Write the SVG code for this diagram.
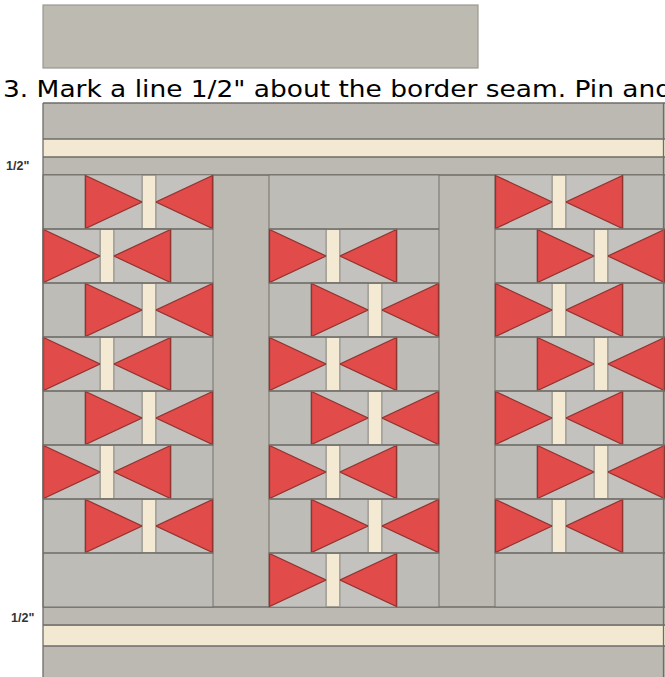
<svg xmlns="http://www.w3.org/2000/svg" xmlns:xlink="http://www.w3.org/1999/xlink" width="665" height="677" viewBox="0 0 665 677">
<style>
.gray{fill:#bcb9b2}
.blk{fill:#bdbcb7;stroke:#75736d;stroke-width:1}
.sq{fill:#c3c2be;stroke:#8a8884;stroke-width:0.8}
.tri{fill:#e14b4a;stroke:#93332f;stroke-width:1.3;stroke-linejoin:miter}
.bar{fill:#f4ead3;stroke:#8f8c84;stroke-width:0.6}
.beige{fill:#f3e9d2}
.ln{stroke:#6f6d67;stroke-width:1.3;fill:none}
.lbl{font-family:"Liberation Sans",Arial,sans-serif;font-size:12.5px;font-weight:bold;fill:#333}
.cap{font-family:"DejaVu Sans Condensed","DejaVu Sans",Verdana,sans-serif;font-stretch:condensed;font-size:23px;fill:#000}
</style>
<defs>
<g id="bowtie">
<rect class="sq" x="0" y="0" width="57" height="54"/>
<rect class="sq" x="71" y="0" width="57" height="54"/>
<polygon class="tri" points="0.5,0.5 57,27 0.5,53.5"/>
<polygon class="tri" points="127.5,0.5 71,27 127.5,53.5"/>
<rect class="bar" x="57.5" y="0.5" width="13" height="53"/>
</g>
</defs>
<rect width="665" height="677" fill="#ffffff"/>
<g id="prev-border">
<rect x="43" y="5" width="435" height="63" fill="#bdbab2" stroke="#9b9890" stroke-width="1.2"/>
</g>
<text id="caption" class="cap" x="3" y="97" textLength="669" lengthAdjust="spacingAndGlyphs">3. Mark a line 1/2" about the border seam. Pin and</text>
<g id="quilt">
<rect class="gray" x="43" y="103" width="622" height="574"/>
<g id="top-border">
<rect class="beige" x="43" y="139" width="622" height="18"/>
<line class="ln" x1="43" y1="103" x2="665" y2="103"/>
<line class="ln" x1="43" y1="139" x2="665" y2="139" stroke-width="0.6"/>
<line class="ln" x1="43" y1="157" x2="665" y2="157"/>
<line class="ln" x1="43" y1="175" x2="665" y2="175"/>
</g>
<g id="bottom-border">
<rect class="beige" x="43" y="626" width="622" height="20"/>
<line class="ln" x1="43" y1="607" x2="665" y2="607"/>
<line class="ln" x1="43" y1="625" x2="665" y2="625"/>
<line class="ln" x1="43" y1="646" x2="665" y2="646"/>
</g>
<g id="column-1">
<rect class="blk" x="43" y="175" width="170" height="432"/>
<use xlink:href="#bowtie" x="85" y="175"/>
<use xlink:href="#bowtie" x="43" y="229"/>
<use xlink:href="#bowtie" x="85" y="283"/>
<use xlink:href="#bowtie" x="43" y="337"/>
<use xlink:href="#bowtie" x="85" y="391"/>
<use xlink:href="#bowtie" x="43" y="445"/>
<use xlink:href="#bowtie" x="85" y="499"/>
<g class="ln">
<line x1="43" y1="229" x2="213" y2="229"/><line x1="43" y1="283" x2="213" y2="283"/>
<line x1="43" y1="337" x2="213" y2="337"/><line x1="43" y1="391" x2="213" y2="391"/>
<line x1="43" y1="445" x2="213" y2="445"/><line x1="43" y1="499" x2="213" y2="499"/>
<line x1="43" y1="553" x2="213" y2="553"/>
</g>
</g>
<g id="column-2">
<rect class="blk" x="269" y="175" width="170" height="432"/>
<use xlink:href="#bowtie" x="269" y="229"/>
<use xlink:href="#bowtie" x="311" y="283"/>
<use xlink:href="#bowtie" x="269" y="337"/>
<use xlink:href="#bowtie" x="311" y="391"/>
<use xlink:href="#bowtie" x="269" y="445"/>
<use xlink:href="#bowtie" x="311" y="499"/>
<use xlink:href="#bowtie" x="269" y="553"/>
<g class="ln">
<line x1="269" y1="229" x2="439" y2="229"/><line x1="269" y1="283" x2="439" y2="283"/>
<line x1="269" y1="337" x2="439" y2="337"/><line x1="269" y1="391" x2="439" y2="391"/>
<line x1="269" y1="445" x2="439" y2="445"/><line x1="269" y1="499" x2="439" y2="499"/>
<line x1="269" y1="553" x2="439" y2="553"/>
</g>
</g>
<g id="column-3">
<rect class="blk" x="495" y="175" width="170" height="432"/>
<use xlink:href="#bowtie" x="495" y="175"/>
<use xlink:href="#bowtie" x="537" y="229"/>
<use xlink:href="#bowtie" x="495" y="283"/>
<use xlink:href="#bowtie" x="537" y="337"/>
<use xlink:href="#bowtie" x="495" y="391"/>
<use xlink:href="#bowtie" x="537" y="445"/>
<use xlink:href="#bowtie" x="495" y="499"/>
<g class="ln">
<line x1="495" y1="229" x2="665" y2="229"/><line x1="495" y1="283" x2="665" y2="283"/>
<line x1="495" y1="337" x2="665" y2="337"/><line x1="495" y1="391" x2="665" y2="391"/>
<line x1="495" y1="445" x2="665" y2="445"/><line x1="495" y1="499" x2="665" y2="499"/>
<line x1="495" y1="553" x2="665" y2="553"/>
</g>
</g>
<line class="ln" x1="43" y1="103" x2="43" y2="677"/>
<line class="ln" x1="663.5" y1="103" x2="663.5" y2="677" stroke-width="0.8"/>
</g>
<text id="label-top" class="lbl" x="6" y="170">1/2"</text>
<text id="label-bottom" class="lbl" x="11" y="622">1/2"</text>
</svg>
